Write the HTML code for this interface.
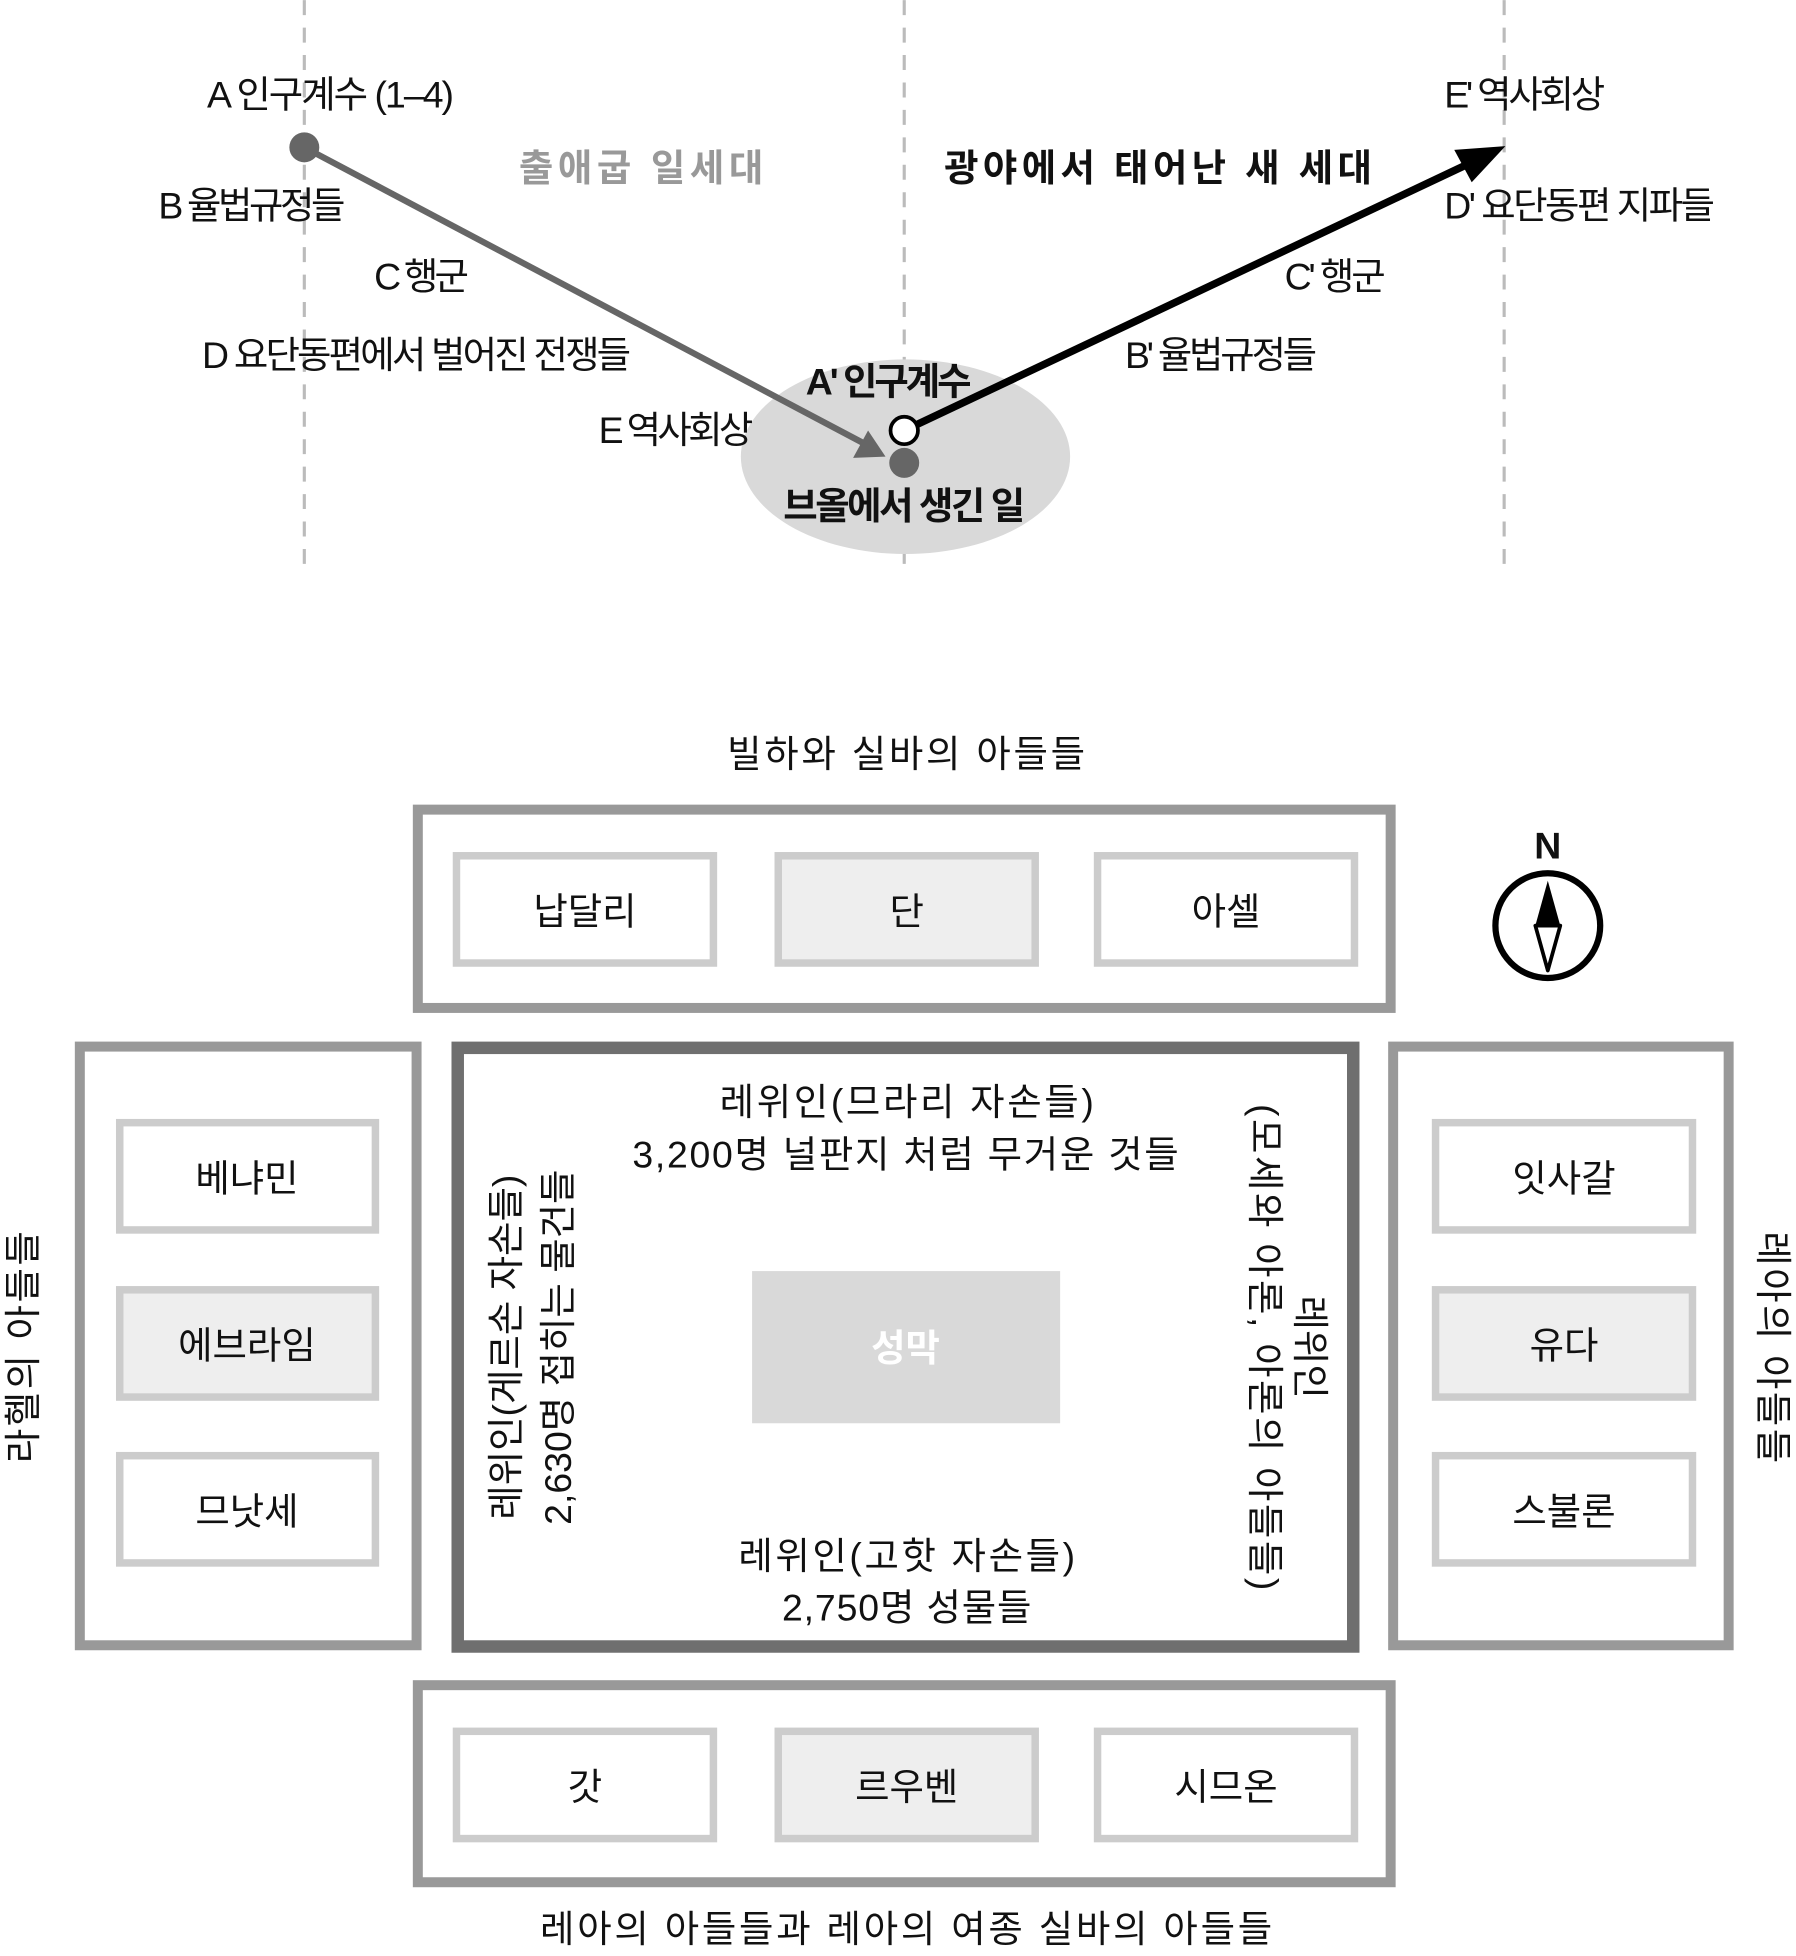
<!DOCTYPE html>
<html><head><meta charset="utf-8"><style>
html,body{margin:0;padding:0;background:#fff}
svg{display:block}
text{font-family:"Liberation Sans","Noto Sans CJK KR",sans-serif;font-size:30px;fill:#111}
</style></head><body>
<svg width="1796" height="1956" viewBox="0 0 1440 1568" xmlns="http://www.w3.org/2000/svg">
<g stroke="#bbb" stroke-width="2.5" stroke-dasharray="12,10">
<line x1="244" y1="0" x2="244" y2="455"/><line x1="725" y1="0" x2="725" y2="455"/><line x1="1206" y1="0" x2="1206" y2="455"/>
</g>
<ellipse cx="726" cy="366" rx="132" ry="78" fill="#d9d9d9"/>
<line x1="244" y1="118" x2="692" y2="355" stroke="#666" stroke-width="5"/>
<path d="M710,366 L684,367 L696,345 z" fill="#666"/>
<circle cx="244" cy="118" r="12" fill="#666"/>
<line x1="725" y1="345" x2="1180" y2="130" stroke="#000" stroke-width="6"/>
<path d="M1207,117 L1166,120 L1180,146 z" fill="#000"/>
<circle cx="725" cy="371" r="12" fill="#666"/>
<circle cx="725" cy="345" r="11" fill="#fff" stroke="#000" stroke-width="3"/>
<text x="265" y="86" text-anchor="middle" textLength="198">A 인구계수 (1–4)</text>
<text x="127" y="175" textLength="150">B 율법규정들</text>
<text x="300" y="232" textLength="76">C 행군</text>
<text x="162" y="295" textLength="344">D 요단동편에서 벌어진 전쟁들</text>
<text x="480" y="355" textLength="124">E 역사회상</text>
<text x="416" y="145" font-size="34" font-weight="bold" style="fill:#999" textLength="196">출애굽 일세대</text>
<text x="757" y="145" font-size="34" font-weight="bold" textLength="343">광야에서 태어난 새 세대</text>
<text x="1158" y="86" textLength="129">E' 역사회상</text>
<text x="1158" y="175" textLength="217">D' 요단동편 지파들</text>
<text x="1030" y="232" textLength="81">C' 행군</text>
<text x="902" y="295" textLength="154">B' 율법규정들</text>
<text x="646" y="316" font-weight="bold" textLength="133">A' 인구계수</text>
<text x="628" y="416" font-weight="bold" textLength="194">브올에서 생긴 일</text>

<text x="583" y="615" textLength="287">빌하와 실바의 아들들</text>
<text x="433" y="1557" textLength="587">레아의 아들들과 레아의 여종 실바의 아들들</text>

<g fill="none" stroke="#999" stroke-width="8">
<rect x="335" y="649" width="780" height="159"/>
<rect x="64" y="839" width="270" height="480"/>
<rect x="1117" y="839" width="269" height="480"/>
<rect x="335" y="1351" width="780" height="158"/>
</g>
<rect x="367" y="840" width="718" height="480" fill="none" stroke="#6f6f6f" stroke-width="10"/>
<g stroke="#ccc" stroke-width="6" fill="#fff">
<rect x="366" y="686" width="206" height="86"/>
<rect x="624" y="686" width="206" height="86" fill="#eee"/>
<rect x="880" y="686" width="206" height="86"/>
<rect x="96" y="900" width="205" height="86"/>
<rect x="96" y="1034" width="205" height="86" fill="#eee"/>
<rect x="96" y="1167" width="205" height="86"/>
<rect x="1151" y="900" width="206" height="86"/>
<rect x="1151" y="1034" width="206" height="86" fill="#eee"/>
<rect x="1151" y="1167" width="206" height="86"/>
<rect x="366" y="1388" width="206" height="86"/>
<rect x="624" y="1388" width="206" height="86" fill="#eee"/>
<rect x="880" y="1388" width="206" height="86"/>
</g>
<g text-anchor="middle">
<text x="469" y="741">납달리</text><text x="727" y="741">단</text><text x="983" y="741">아셀</text>
<text x="198" y="955">베냐민</text><text x="198" y="1089">에브라임</text><text x="198" y="1222">므낫세</text>
<text x="1254" y="955">잇사갈</text><text x="1254" y="1089">유다</text><text x="1254" y="1222">스불론</text>
<text x="469" y="1443">갓</text><text x="727" y="1443">르우벤</text><text x="983" y="1443">시므온</text>
</g>
<text x="577" y="894" textLength="300">레위인(므라리 자손들)</text>
<text x="507" y="936" textLength="438">3,200명 널판지 처럼 무거운 것들</text>
<text x="592" y="1258" textLength="270">레위인(고핫 자손들)</text>
<text x="627" y="1299" textLength="200">2,750명 성물들</text>
<rect x="603" y="1019" width="247" height="122" fill="#d9d9d9"/>
<text x="726" y="1091" text-anchor="middle" font-weight="bold" style="fill:#fff">성막</text>
<g text-anchor="middle">
<text transform="translate(416,1080) rotate(-90)">레위인(게르손 자손들)</text>
<text transform="translate(458,1080) rotate(-90)">2,630명 접히는 물건들</text>
<text transform="translate(1040,1080) rotate(90)">레위인</text>
<text transform="translate(1004,1080) rotate(90)" textLength="390">(모세와 아론, 아론의 아들들)</text>
<text transform="translate(29,1080) rotate(-90)" textLength="186">라헬의 아들들</text>
<text transform="translate(1411,1080) rotate(90)" textLength="186">레아의 아들들</text>
</g>
<text x="1241" y="688" text-anchor="middle" font-weight="bold" font-size="28">N</text>
<circle cx="1241" cy="742" r="42" fill="none" stroke="#000" stroke-width="5"/>
<path d="M1241,706 L1251,742 L1231,742 z" fill="#000"/>
<path d="M1231,742 L1251,742 L1241,778 z" fill="#fff" stroke="#000" stroke-width="3" stroke-linejoin="round"/>
</svg>
</body></html>
